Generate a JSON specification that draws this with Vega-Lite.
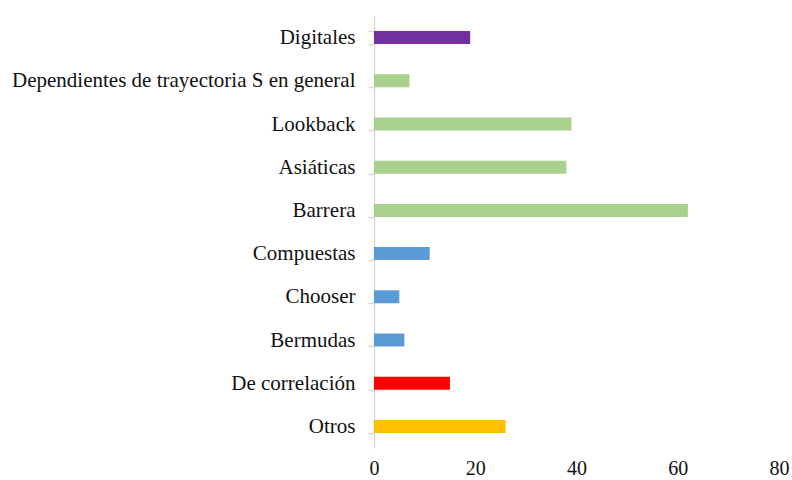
{
  "$schema": "https://vega.github.io/schema/vega-lite/v6.json",
  "width": 405,
  "height": 432,
  "autosize": "none",
  "padding": {"left": 374, "top": 16, "right": 13, "bottom": 32},
  "background": "white",
  "config": {"view": {"stroke": null}},
  "data": {
    "values": [
      {"categoria": "Digitales", "valor": 19, "grupo": "Digitales"},
      {"categoria": "Dependientes de  trayectoria S en general", "valor": 7, "grupo": "Trayectoria"},
      {"categoria": "Lookback", "valor": 39, "grupo": "Trayectoria"},
      {"categoria": "Asiáticas", "valor": 38, "grupo": "Trayectoria"},
      {"categoria": "Barrera", "valor": 62, "grupo": "Trayectoria"},
      {"categoria": "Compuestas", "valor": 11, "grupo": "Tiempo"},
      {"categoria": "Chooser", "valor": 5, "grupo": "Tiempo"},
      {"categoria": "Bermudas", "valor": 6, "grupo": "Tiempo"},
      {"categoria": "De correlación", "valor": 15, "grupo": "Correlación"},
      {"categoria": "Otros", "valor": 26, "grupo": "Otros"}
    ]
  },
  "mark": {"type": "bar"},
  "encoding": {
    "y": {
      "field": "categoria",
      "type": "nominal",
      "sort": null,
      "scale": {"paddingInner": 0.7, "paddingOuter": 0.35},
      "axis": {
        "title": null,
        "domainColor": "#D9D9D9",
        "domainWidth": 1.5,
        "tickColor": "#D9D9D9",
        "tickWidth": 1.5,
        "tickSize": 6,
        "tickBand": "extent",
        "labelFont": "Liberation Serif",
        "labelFontSize": 21,
        "labelColor": "#111111",
        "labelPadding": 13,
        "labelLimit": 400
      }
    },
    "x": {
      "field": "valor",
      "type": "quantitative",
      "scale": {"domain": [0, 80]},
      "axis": {
        "title": null,
        "values": [0, 20, 40, 60, 80],
        "domain": false,
        "ticks": false,
        "grid": false,
        "labelFont": "Liberation Serif",
        "labelFontSize": 20,
        "labelColor": "#111111",
        "labelPadding": 10,
        "labelFlush": false
      }
    },
    "color": {
      "field": "grupo",
      "type": "nominal",
      "scale": {
        "domain": ["Digitales", "Trayectoria", "Tiempo", "Correlación", "Otros"],
        "range": ["#7030A0", "#A9D18E", "#5B9BD5", "#FF0000", "#FFC000"]
      },
      "legend": null
    }
  }
}
